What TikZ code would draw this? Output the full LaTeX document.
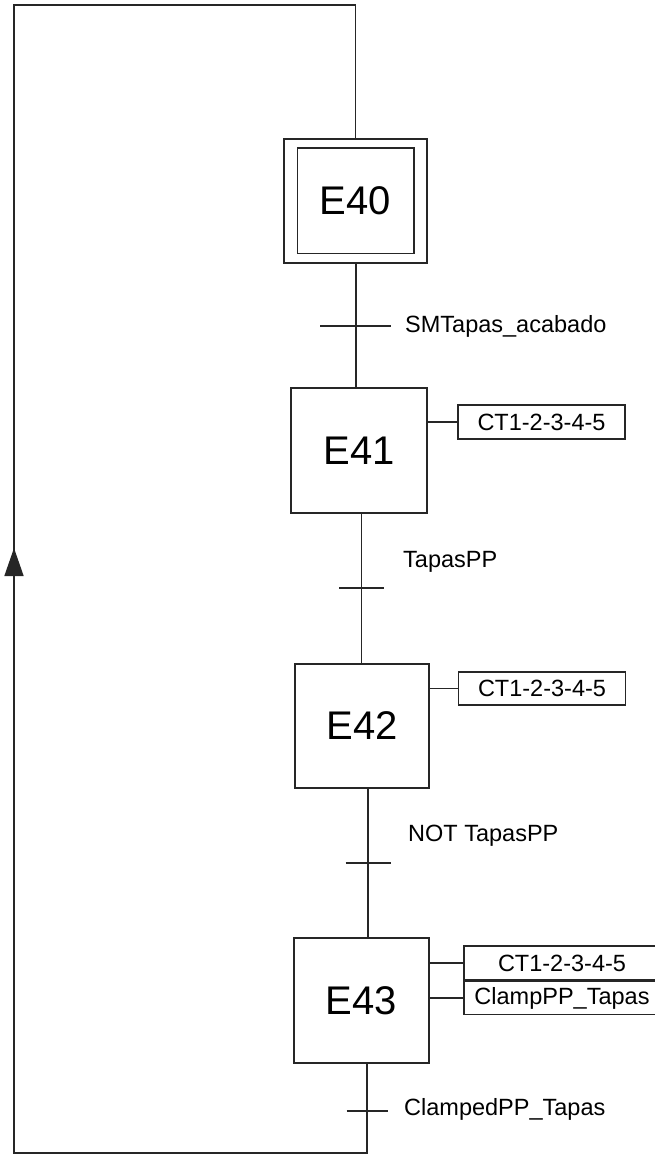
\documentclass[tikz,border=0pt]{standalone}
\usepackage{fontspec}
\setmainfont{Liberation Sans}
\usetikzlibrary{arrows.meta}

\tikzset{
  grafcet/.style={line width=1.5pt, draw=black!85},
  stepbox/.style={draw=black!85, line width=1.5pt, inner sep=0pt,
    minimum width=135pt, minimum height=125pt,
    font=\fontsize{40}{48}\selectfont},
  actionbox/.style={draw=black!85, line width=1.5pt, inner sep=0pt,
    minimum width=167pt, minimum height=33pt,
    font=\fontsize{23.5}{28}\selectfont},
  cond/.style={anchor=base west, inner sep=0pt,
    font=\fontsize{23.5}{28}\selectfont}
}

\begin{document}
\begin{tikzpicture}[x=1pt, y=-1pt]
	\useasboundingbox (0,0) rectangle (655,1155);

            % steps
            \node[stepbox, minimum width=143pt, minimum height=124pt] (E40) at (355.5,201) {E40};
            \draw[grafcet] ([xshift=14pt,yshift=-10pt]E40.north west) rectangle ([xshift=-14pt,yshift=10pt]E40.south east);
            \node[stepbox, minimum width=136pt] (E41) at (359,450.5) {E41};
            \node[stepbox, minimum width=134pt, minimum height=124pt] (E42) at (362,726) {E42};
            \node[stepbox] (E43) at (361.5,1000.5) {E43};

            % transitions
            \coordinate (t1) at (356,326);
            \coordinate (t2) at (361.5,588);
            \coordinate (t3) at (368,863);
            \coordinate (t4) at (367,1111);

            \draw[grafcet] (E40.south -| t1) -- (E41.north -| t1);
            \draw[grafcet] (E41.south -| t2) -- (E42.north -| t2);
            \draw[grafcet] (E42.south -| t3) -- (E43.north -| t3);

            \draw[grafcet] ([xshift=-36pt]t1) -- ([xshift=35pt]t1);
            \foreach \t/\w in {t2/22.5,t3/22.5,t4/20.5}{
              \draw[grafcet] ([xshift=-\w pt]\t) -- ([xshift=\w pt]\t);
            }

            \node[cond] (c41) at (405,332) {SMTapas\_acabado};
            \node[cond] (c42) at (403,567) {TapasPP};
            \node[cond] (c43) at (408,841) {NOT TapasPP};
            \node[cond] (c40) at (404,1115) {ClampedPP\_Tapas};

            % actions
            \node[actionbox, minimum height=34pt] (a41) at (541.5,422) {CT1-2-3-4-5};
            \node[actionbox] (a42) at (542,688.5) {CT1-2-3-4-5};
            \node[actionbox, minimum width=196pt, minimum height=34pt] (a43) at (562,963) {CT1-2-3-4-5};
            \node[actionbox, minimum width=196pt, anchor=north] (b43) at (a43.south) {ClampPP\_Tapas};

            \draw[grafcet] (E41.east |- a41.west) -- (a41.west);
            \draw[grafcet] (E42.east |- a42.west) -- (a42.west);
            \draw[grafcet] (E43.east |- a43.west) -- (a43.west);
            \draw[grafcet] (E43.east |- b43.west) -- (b43.west);

            % loop back to the initial step
            \coordinate (r1) at (367,1153);
            \coordinate (r2) at (14,1153);
            \coordinate (r3) at (14,5);
            \coordinate (up) at (14,548);
            \draw[grafcet] (E43.south -| t4) -- (r1) -- (r2) -- (r3) -- (r3 -| E40.north) -- (E40.north);
            \draw[grafcet, -{Triangle[length=28pt,width=19pt]}] (r2) -- (up);
\end{tikzpicture}
\end{document}
